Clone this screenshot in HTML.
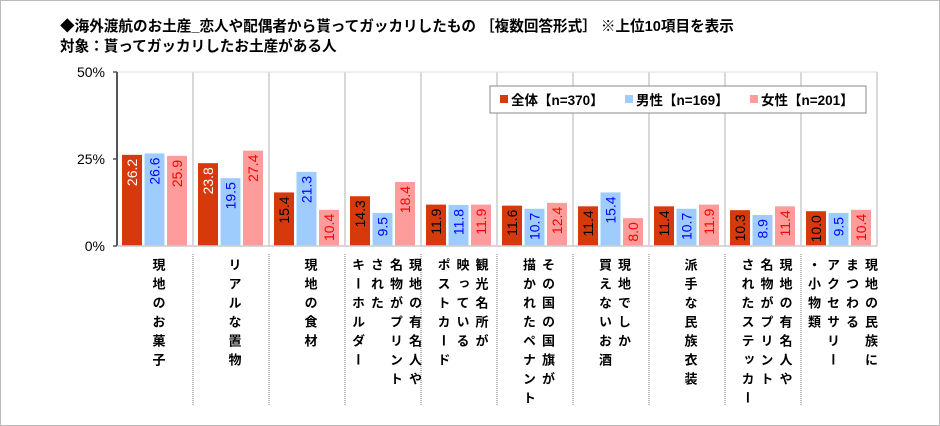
<!DOCTYPE html>
<html><head><meta charset="utf-8">
<style>
body{margin:0;background:#fff;font-family:"Liberation Sans","Noto Sans CJK JP",sans-serif;}
#wrap{position:relative;width:940px;height:426px;overflow:hidden;}
#frame{position:absolute;left:0;top:0;width:938px;height:424px;border:1px solid #bbb;}
.t{position:absolute;left:60px;font-size:14.6px;font-weight:bold;color:#000;white-space:nowrap;}
.lab{position:absolute;top:258px;writing-mode:vertical-rl;text-orientation:upright;font-size:13px;font-weight:bold;line-height:19px;letter-spacing:6px;color:#000;}
</style></head><body>
<div id="wrap">
<div id="frame"></div>
<div class="t" style="top:15px">◆海外渡航のお土産_恋人や配偶者から貰ってガッカリしたもの ［複数回答形式］ ※上位10項目を表示</div>
<div class="t" style="top:35px">対象：貰ってガッカリしたお土産がある人</div>
<svg id="chart" width="940" height="426" style="position:absolute;left:0;top:0"></svg>
<div id="labels"></div>
</div>
<script>
const categories=["現地のお菓子","リアルな置物","現地の食材","現地の有名人や\n名物がプリント\nされた\nキーホルダー","観光名所が\n映っている\nポストカード","その国の国旗が\n描かれたペナント","現地でしか\n買えないお酒","派手な民族衣装","現地の有名人や\n名物がプリント\nされたステッカー","現地の民族に\nまつわる\nアクセサリー\n・小物類"];
const totalVals=[26.2,23.8,15.4,14.3,11.9,11.6,11.4,11.4,10.3,10.0];
const maleVals=[26.6,19.5,21.3,9.5,11.8,10.7,15.4,10.7,8.9,9.5];
const femaleVals=[25.9,27.4,10.4,18.4,11.9,12.4,8.0,11.9,11.4,10.4];
const yTicks=[0,25,50];
const seriesNames=["全体【n=370】","男性【n=169】","女性【n=201】"];

const NS="http://www.w3.org/2000/svg";
const svg=document.getElementById('chart');
const x0=117,x1=877,y0=246,y50=72;
const gw=(x1-x0)/categories.length;
const y=v=>y0-(v/50)*(y0-y50);
const gx=i=>x0+i*gw;
function mk(t,a){const e=document.createElementNS(NS,t);for(const k in a)e.setAttribute(k,a[k]);svg.appendChild(e);return e;}
for(let i=1;i<categories.length;i++){
 const l=mk('line',{x1:gx(i),x2:gx(i),y1:y50,y2:y0,stroke:'#ccc','stroke-width':1.5});
 
 const d=mk('line',{x1:gx(i),x2:gx(i),y1:y0+8,y2:406,stroke:'#777','stroke-width':1,'stroke-dasharray':'1,1'});
 
}
mk('line',{x1:x1,x2:x1,y1:y50,y2:y0,stroke:'#ccc','stroke-width':1.5});
mk('line',{x1:x0,x2:x1,y1:y50,y2:y50,stroke:'#ddd','stroke-width':1});
yTicks.forEach(v=>{
 const t=mk('text',{x:x0-12,y:y(v)+5,'text-anchor':'end','font-size':14,fill:'#000'});
 t.textContent=v+'%';
 
 mk('line',{x1:x0-4,x2:x0,y1:y(v),y2:y(v),stroke:'#555','stroke-width':1.5});
});
const series=[[totalVals,'#d63a0c'],[maleVals,'#9ecdfd'],[femaleVals,'#fe9b9b']];
categories.forEach((c,i)=>{
 series.forEach((s,j)=>{
  const v=s[0][i];const bx=gx(i)+5+j*22.5;
  const r=mk('rect',{x:bx,y:y(v),width:20,height:y0-y(v),fill:s[1]});
  
  
  let col=j==0?(v>=20?'#fff':'#000'):(j==1?'#0000ff':'#ff0000');
  const cx=bx+10,cy=y(v)+4;
  const t=mk('text',{x:cx+5,y:cy,transform:`rotate(-90 ${cx+5} ${cy})`,'text-anchor':'end','font-size':14,fill:col});
  t.textContent=v.toFixed(1);
  
 });
 const d=document.createElement('div');d.className='lab';
 
 
 d.innerHTML=c.split('\n').join('<br>');
 document.getElementById('labels').appendChild(d);
 const w=d.offsetWidth;d.style.left=(gx(i)+gw/2-w/2+3)+'px';
});
mk('line',{x1:x0,x2:x0,y1:y50,y2:y0,stroke:'#555','stroke-width':2});
mk('line',{x1:x0,x2:x1,y1:y0,y2:y0,stroke:'#ccc','stroke-width':1.5});
const lg=mk('rect',{x:490,y:86,width:376,height:27,fill:'#fff',stroke:'#888'});

const lx=[500,625,750];
series.forEach((s,j)=>{
 const r=mk('rect',{x:lx[j],y:95,width:8,height:8,fill:s[1]});
 
 const t=mk('text',{x:lx[j]+11,y:105,'font-size':13.5,'font-weight':'bold',fill:'#000'});
 t.textContent=seriesNames[j];
 
});
</script>
</body></html>
